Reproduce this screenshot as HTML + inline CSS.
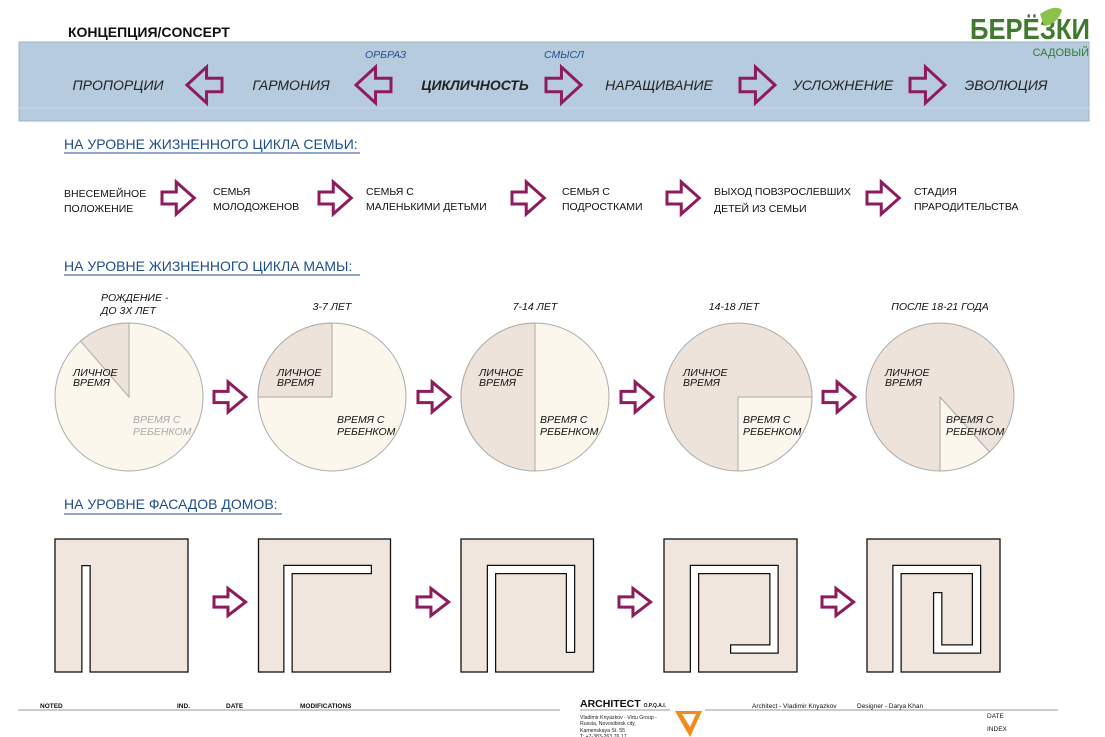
<!DOCTYPE html>
<html><head><meta charset="utf-8"><style>
html,body{margin:0;padding:0;background:#fff}
svg{display:block}
text{font-family:"Liberation Sans","DejaVu Sans",sans-serif}
.it{font-style:italic}
</style></head><body>
<svg width="1105" height="737" viewBox="0 0 1105 737" xmlns="http://www.w3.org/2000/svg">
<defs>
<path id="ar" d="M0,-6 H15 V-16 L34,0 L15,16 V6 H0 Z" fill="none" stroke="#8e1c5c" stroke-width="3" vector-effect="non-scaling-stroke" stroke-linejoin="miter"/>
</defs>

<!-- header -->
<text x="68" y="37" font-size="14" font-weight="bold" fill="#111">КОНЦЕПЦИЯ/CONCEPT</text>
<text x="970" y="39" font-size="29" font-weight="bold" fill="#3f7a2e" textLength="120" lengthAdjust="spacingAndGlyphs">БЕРЁЗКИ</text>
<path d="M1040,14 Q1055,4 1062,10 Q1058,24 1044,26 Z" fill="#8bc34a"/>
<text x="971" y="46" font-size="4" fill="#3f7a2e" textLength="118" lengthAdjust="spacingAndGlyphs">КОТТЕДЖНЫЕ ПОСЕЛКИ</text>

<rect x="19" y="42" width="1070" height="79" fill="#b7cbdf" stroke="#9fb3c8" stroke-width="1"/>
<line x1="19" y1="108" x2="1089" y2="108" stroke="#c8d8e8" stroke-width="1"/>
<text x="1089" y="56" font-size="11" fill="#2e7d32" text-anchor="end">САДОВЫЙ</text>
<text x="365" y="58" font-size="10.5" class="it" fill="#1f4e8c">ОРБРАЗ</text>
<text x="544" y="58" font-size="10.5" class="it" fill="#1f4e8c">СМЫСЛ</text>

<g font-size="14" class="it" fill="#222" text-anchor="middle">
<text x="118" y="90">ПРОПОРЦИИ</text>
<text x="291" y="90">ГАРМОНИЯ</text>
<text x="475" y="90" font-weight="bold">ЦИКЛИЧНОСТЬ</text>
<text x="659" y="90">НАРАЩИВАНИЕ</text>
<text x="843" y="90">УСЛОЖНЕНИЕ</text>
<text x="1006" y="90">ЭВОЛЮЦИЯ</text>
</g>
<use href="#ar" transform="translate(222,85) scale(-1.03,1.12)"/>
<use href="#ar" transform="translate(391,85) scale(-1.03,1.12)"/>
<use href="#ar" transform="translate(546,85) scale(1.03,1.12)"/>
<use href="#ar" transform="translate(740,85) scale(1.03,1.12)"/>
<use href="#ar" transform="translate(910,85) scale(1.03,1.12)"/>

<!-- section 1 -->
<text x="64" y="149" font-size="14" fill="#1f4e8c">НА УРОВНЕ ЖИЗНЕННОГО ЦИКЛА СЕМЬИ:</text>
<line x1="64" y1="153" x2="360" y2="153" stroke="#1f4e8c" stroke-width="1"/>
<g font-size="10.5" fill="#111">
<text x="64" y="197">ВНЕСЕМЕЙНОЕ</text><text x="64" y="212">ПОЛОЖЕНИЕ</text>
<text x="213" y="195">СЕМЬЯ</text><text x="213" y="210">МОЛОДОЖЕНОВ</text>
<text x="366" y="195">СЕМЬЯ С</text><text x="366" y="210">МАЛЕНЬКИМИ ДЕТЬМИ</text>
<text x="562" y="195">СЕМЬЯ С</text><text x="562" y="210">ПОДРОСТКАМИ</text>
<text x="714" y="195">ВЫХОД ПОВЗРОСЛЕВШИХ</text><text x="714" y="212">ДЕТЕЙ ИЗ СЕМЬИ</text>
<text x="914" y="195">СТАДИЯ</text><text x="914" y="210">ПРАРОДИТЕЛЬСТВА</text>
</g>
<use href="#ar" transform="translate(162,198) scale(0.95,1)"/>
<use href="#ar" transform="translate(319,198) scale(0.95,1)"/>
<use href="#ar" transform="translate(512,198) scale(0.95,1)"/>
<use href="#ar" transform="translate(667,198) scale(0.95,1)"/>
<use href="#ar" transform="translate(867,198) scale(0.95,1)"/>

<!-- section 2 -->
<text x="64" y="271" font-size="14" fill="#1f4e8c">НА УРОВНЕ ЖИЗНЕННОГО ЦИКЛА МАМЫ:</text>
<line x1="64" y1="275" x2="360" y2="275" stroke="#1f4e8c" stroke-width="1"/>

<g stroke="#aaa" stroke-width="1">
<circle cx="129" cy="397" r="74" fill="#fbf7ec"/>
<path d="M129,397 L80.5,341.1 A74,74 0 0 1 129,323 Z" fill="#ede3da"/>
<circle cx="332" cy="397" r="74" fill="#fbf7ec"/>
<path d="M332,397 L258,397 A74,74 0 0 1 332,323 Z" fill="#ede3da"/>
<circle cx="535" cy="397" r="74" fill="#fbf7ec"/>
<path d="M535,323 A74,74 0 0 0 535,471 Z" fill="#ede3da"/>
<circle cx="738" cy="397" r="74" fill="#ede3da"/>
<path d="M738,397 L812,397 A74,74 0 0 1 738,471 Z" fill="#fbf7ec"/>
<circle cx="940" cy="397" r="74" fill="#ede3da"/>
<path d="M940,397 L989.5,452 A74,74 0 0 1 940,471 Z" fill="#fbf7ec"/>
</g>
<g font-size="10.5" class="it" fill="#111">
<text x="101" y="301">РОЖДЕНИЕ -</text><text x="101" y="314">ДО 3Х ЛЕТ</text>
<text x="332" y="310" text-anchor="middle">3-7 ЛЕТ</text>
<text x="535" y="310" text-anchor="middle">7-14 ЛЕТ</text>
<text x="734" y="310" text-anchor="middle">14-18 ЛЕТ</text>
<text x="940" y="310" text-anchor="middle">ПОСЛЕ 18-21 ГОДА</text>
<text x="73" y="376">ЛИЧНОЕ</text><text x="73" y="386">ВРЕМЯ</text>
<text x="133" y="423" fill="#aaa">ВРЕМЯ С</text><text x="133" y="435" fill="#aaa">РЕБЕНКОМ</text>
<text x="277" y="376">ЛИЧНОЕ</text><text x="277" y="386">ВРЕМЯ</text>
<text x="337" y="423">ВРЕМЯ С</text><text x="337" y="435">РЕБЕНКОМ</text>
<text x="479" y="376">ЛИЧНОЕ</text><text x="479" y="386">ВРЕМЯ</text>
<text x="540" y="423">ВРЕМЯ С</text><text x="540" y="435">РЕБЕНКОМ</text>
<text x="683" y="376">ЛИЧНОЕ</text><text x="683" y="386">ВРЕМЯ</text>
<text x="743" y="423">ВРЕМЯ С</text><text x="743" y="435">РЕБЕНКОМ</text>
<text x="885" y="376">ЛИЧНОЕ</text><text x="885" y="386">ВРЕМЯ</text>
<text x="946" y="423">ВРЕМЯ С</text><text x="946" y="435">РЕБЕНКОМ</text>
</g>
<use href="#ar" transform="translate(214,397) scale(0.94,0.94)"/>
<use href="#ar" transform="translate(418,397) scale(0.94,0.94)"/>
<use href="#ar" transform="translate(621,397) scale(0.94,0.94)"/>
<use href="#ar" transform="translate(823,397) scale(0.94,0.94)"/>

<!-- section 3 -->
<text x="64" y="509" font-size="14" fill="#1f4e8c">НА УРОВНЕ ФАСАДОВ ДОМОВ:</text>
<line x1="64" y1="514" x2="282" y2="514" stroke="#1f4e8c" stroke-width="1"/>

<g fill="#f0e6de" stroke="#111" stroke-width="1.3">
<rect x="55" y="539" width="133" height="133"/>
<rect x="258.5" y="539" width="132" height="133"/>
<rect x="461" y="539" width="132.5" height="133"/>
<rect x="664" y="539" width="133" height="133"/>
<rect x="867" y="539" width="133" height="133"/>
</g>
<g fill="none" stroke-linejoin="miter" stroke-linecap="butt">
<g stroke="#111" stroke-width="9.5">
<path d="M86,671.5 V565"/>
<path d="M288,671.5 V569.5 H372"/>
<path d="M491.5,671.5 V569.5 H570.5 V653"/>
<path d="M694.5,671.5 V569.5 H774 V649 H730"/>
<path d="M897,671.5 V569.5 H976.5 V649 H937.7 V592"/>
</g>
<g stroke="#fff" stroke-width="7">
<path d="M86,675 V566.25"/>
<path d="M288,675 V569.5 H370.75"/>
<path d="M491.5,675 V569.5 H570.5 V651.75"/>
<path d="M694.5,675 V569.5 H774 V649 H731.25"/>
<path d="M897,675 V569.5 H976.5 V649 H937.7 V593.25"/>
</g>
</g>
<use href="#ar" transform="translate(214,602) scale(0.93,0.85)"/>
<use href="#ar" transform="translate(417,602) scale(0.93,0.85)"/>
<use href="#ar" transform="translate(619,602) scale(0.93,0.85)"/>
<use href="#ar" transform="translate(822,602) scale(0.93,0.85)"/>

<!-- footer -->
<line x1="18" y1="710" x2="560" y2="710" stroke="#999" stroke-width="1"/>
<line x1="580" y1="710" x2="670" y2="710" stroke="#999" stroke-width="1"/>
<line x1="705" y1="710" x2="1058" y2="710" stroke="#999" stroke-width="1"/>
<g font-size="6.5" font-weight="bold" fill="#111">
<text x="40" y="708">NOTED</text>
<text x="177" y="708">IND.</text>
<text x="226" y="708">DATE</text>
<text x="300" y="708">MODIFICATIONS</text>
<text x="752" y="708" font-weight="normal">Architect - Vladimir Knyazkov</text>
<text x="857" y="708" font-weight="normal">Designer - Darya Khan</text>
<text x="987" y="718" font-weight="normal">DATE</text>
<text x="987" y="731" font-weight="normal">INDEX</text>
</g>
<text x="580" y="707" font-size="10.5" font-weight="bold" fill="#111">ARCHITECT <tspan font-size="5">O.P.Q.A.I.</tspan></text>
<g font-size="5.2" fill="#222">
<text x="580" y="719">Vladimir Knyazkov - Virtu Group -</text>
<text x="580" y="725">Russia, Novosibirsk city,</text>
<text x="580" y="732">Kamenskaya St. 55</text>
<text x="580" y="738">T: +7-383-263 76 17</text>
</g>
<path d="M675,711 L702,711 L690,737 Z M682,714 L696,714 L690,727 Z" fill="#f28a1c" fill-rule="evenodd"/>
</svg>
</body></html>
